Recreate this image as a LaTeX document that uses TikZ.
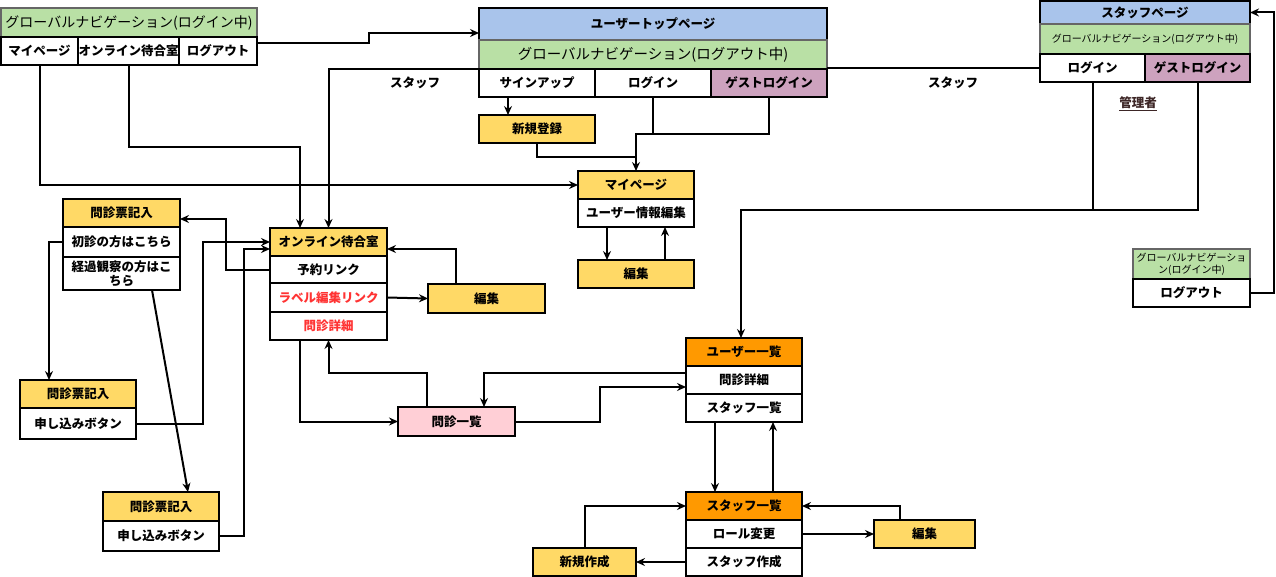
\documentclass[tikz,border=0pt]{standalone}
\usepackage{fontspec}
\setmainfont{Noto Sans CJK JP}
\usepackage{xcolor}
\usepackage{tikz}
\usetikzlibrary{positioning,calc}
\usetikzlibrary{arrows.meta}
\definecolor{navgreen}{HTML}{B9E0A5}
\definecolor{pageblue}{HTML}{A9C4EB}
\definecolor{guestpurple}{HTML}{CDA2BE}
\definecolor{screenyellow}{HTML}{FFD966}
\definecolor{adminorange}{HTML}{FF9900}
\definecolor{listpink}{HTML}{FFCFD6}
\definecolor{linkred}{HTML}{FF3333}
\definecolor{adminbrown}{HTML}{3D2626}
\tikzstyle{cell} = [rectangle,draw=black,line width=2pt,fill=white,inner sep=0pt,outer sep=0pt,align=center,minimum width=116pt,minimum height=28pt,font=\fontsize{12.5}{14}\selectfont\bfseries]
\tikzstyle{page} = [cell,fill=pageblue]
\tikzstyle{nav} = [cell,fill=navgreen,draw=black!60,font=\fontsize{14}{16}\selectfont]
\tikzstyle{smallnav} = [nav,font=\fontsize{10}{12}\selectfont]
\tikzstyle{screen} = [cell,fill=screenyellow]
\tikzstyle{admin} = [cell,fill=adminorange]
\tikzstyle{guest} = [cell,fill=guestpurple]
\tikzstyle{link} = [cell,text=linkred]
\tikzstyle{note} = [font=\fontsize{12.5}{14}\selectfont\bfseries]
\tikzstyle{line} = [line width=2pt,-{Stealth[length=9pt,width=8pt,inset=3pt]}]
\tikzstyle{wire} = [line width=2pt]

\begin{document}
\begin{tikzpicture}[x=1pt,y=-1pt]
        \useasboundingbox (0,0) rectangle (1276,577);
        % global navigation (logged in)
        \node[nav,anchor=north west,minimum width=256pt,minimum height=29pt] (gnav) at (1,8) {グローバルナビゲーション(ログイン中)};
        \node[cell,below right=0pt and 0pt of gnav.south west,minimum width=77pt] (nav-my) {マイページ};
        \node[cell,right=0pt of nav-my,minimum width=101pt] (nav-room) {オンライン待合室};
        \node[cell,right=0pt of nav-room,minimum width=78pt] (nav-out) {ログアウト};
        % user top page
        \node[page,anchor=north west,minimum width=348pt,minimum height=32pt] (top) at (479,8) {ユーザートップページ};
        \node[nav,below=0pt of top,minimum width=348pt,minimum height=29pt,font=\fontsize{14.5}{16}\selectfont] (top-nav) {グローバルナビゲーション(ログアウト中)};
        \node[cell,below right=0pt and 0pt of top-nav.south west] (top-sign) {サインアップ};
        \node[cell,right=0pt of top-sign] (top-login) {ログイン};
        \node[guest,right=0pt of top-login] (top-guest) {ゲストログイン};
        \node[screen,anchor=north west] (signup) at (479,115) {新規登録};
        \node[screen,anchor=north west] (my) at (578,171) {マイページ};
        \node[cell,below=0pt of my] (my-info) {ユーザー情報編集};
        \node[screen,anchor=north west] (my-edit) at (578,260) {編集};
        % staff page
        \node[page,anchor=north west,minimum width=210pt,minimum height=23pt] (staff) at (1040,1) {スタッフページ};
        \node[smallnav,below=0pt of staff,minimum width=210pt,minimum height=30pt] (staff-nav) {グローバルナビゲーション(ログアウト中)};
        \node[cell,below right=0pt and 0pt of staff-nav.south west,minimum width=105pt] (staff-login) {ログイン};
        \node[guest,right=0pt of staff-login,minimum width=105pt] (staff-guest) {ゲストログイン};
        \node[note,text=adminbrown] (kanri) at (1138,104) {\underline{管理者}};
        \node[note] (staff-l) at (415,83) {スタッフ};
        \node[note] (staff-r) at (953,83) {スタッフ};
        \node[smallnav,anchor=north west,minimum width=117pt,minimum height=30pt] (out-nav) at (1133,249) {グローバルナビゲーショ\\ン(ログイン中)};
        \node[cell,below=0pt of out-nav,minimum width=117pt] (out) {ログアウト};
        % interview forms
        \node[screen,anchor=north west,minimum width=117pt] (form) at (63,199) {問診票記入};
        \node[cell,below=0pt of form,minimum width=117pt,minimum height=30pt] (form-first) {初診の方はこちら};
        \node[cell,below=0pt of form-first,minimum width=117pt,minimum height=33pt] (form-cont) {経過観察の方はこ\\ちら};
        \node[screen,anchor=north west] (form-a) at (20,380) {問診票記入};
        \node[cell,below=0pt of form-a,minimum height=31pt] (form-a-btn) {申し込みボタン};
        \node[screen,anchor=north west,minimum height=29pt] (form-b) at (103,492) {問診票記入};
        \node[cell,below=0pt of form-b,minimum height=30pt] (form-b-btn) {申し込みボタン};
        % online waiting room
        \node[screen,anchor=north west,minimum width=117pt] (room) at (270,228) {オンライン待合室};
        \node[cell,below=0pt of room,minimum width=117pt,minimum height=27pt] (room-rsv) {予約リンク};
        \node[link,below=0pt of room-rsv,minimum width=117pt,minimum height=29pt] (room-label) {ラベル編集リンク};
        \node[link,below=0pt of room-label,minimum width=117pt] (room-detail) {問診詳細};
        \node[screen,anchor=north west,minimum width=117pt,minimum height=29pt] (label-edit) at (428,284) {編集};
        \node[cell,fill=listpink,anchor=north west,minimum width=117pt,minimum height=29pt] (list) at (398,407) {問診一覧};
        % user list / staff list
        \node[admin,anchor=north west] (users) at (686,338) {ユーザー一覧};
        \node[cell,below=0pt of users] (users-detail) {問診詳細};
        \node[cell,below=0pt of users-detail] (users-staff) {スタッフ一覧};
        \node[admin,anchor=north west] (staffs) at (686,492) {スタッフ一覧};
        \node[cell,below=0pt of staffs] (staffs-role) {ロール変更};
        \node[cell,below=0pt of staffs-role] (staffs-new) {スタッフ作成};
        \node[screen,anchor=north west,minimum width=101pt] (role-edit) at (874,520) {編集};
        \node[screen,anchor=north west,minimum width=103pt] (new-staff) at (533,548) {新規作成};

        % connectors
        \draw[line] ([yshift=8pt]nav-out.east) -- ++(112,0) |- ([yshift=-9pt]top.west);
        \draw[line] (nav-my.south) |- (my.west);
        \draw[line] (nav-room.south) -- ++(0,82) -| ([xshift=-28.5pt]room.north);
        \draw[line] (top-sign.north west) -| (room.north);
        \draw[wire] (staff-login.west) -- (staff-login.west -| top-guest.east);
        \draw[line] ([xshift=-29pt]top-sign.south) -- ([xshift=-29pt]signup.north);
        \draw[line] (top-login.south) -- ++(0,37) -| (my.north);
        \draw[wire] (top-guest.south) |- ([yshift=-37pt]top-login.south);
        \draw[wire] (signup.south) |- ([yshift=14pt]my.north);
        \draw[line] ([xshift=-29pt]my-info.south) -- ([xshift=-29pt]my-edit.north);
        \draw[line] ([xshift=29pt]my-edit.north) -- ([xshift=29pt]my-info.south);
        \draw[line] (staff-login.south) -- ++(0,128) -| ([xshift=-3pt]users.north);
        \draw[wire] (staff-guest.south) |- ([yshift=-128pt]staff-login.south);
        \draw[line] (out.east) -- ++(24,0) |- (staff.east);
        \draw[line] (room-rsv.west) -- ++(-44,0) |- ([yshift=-6pt]form.east);
        \draw[line] (form-first.west) -| ([xshift=-29pt]form-a.north);
        \draw[line] ([xshift=30.5pt]form-cont.south) -- ([xshift=27pt]form-b.north);
        \draw[line] (form-a-btn.east) -- ++(67,0) |- (room.west);
        \draw[line] (form-b-btn.east) -- ++(25,0) |- ([yshift=-7pt]room.west);
        \draw[line] (room-label.east) -- (label-edit.west);
        \draw[line] ([xshift=-30.5pt]label-edit.north) |- ([yshift=-7pt]room.east);
        \draw[line] ([xshift=-28.5pt]room-detail.south) |- (list.west);
        \draw[line] ([xshift=-29.5pt]list.north) -- ++(0,-34) -| (room-detail.south);
        \draw[line] ([yshift=7pt]users-detail.west) -| ([xshift=27.5pt]list.north);
        \draw[line] (list.east) -- ++(85,0) |- ([yshift=-7pt]users-detail.west);
        \draw[line] ([xshift=-29pt]users-staff.south) -- ([xshift=-29pt]staffs.north);
        \draw[line] ([xshift=29pt]staffs.north) -- ([xshift=29pt]users-staff.south);
        \draw[line] (staffs-role.east) -- (role-edit.west);
        \draw[line] ([xshift=-24.5pt]role-edit.north) |- (staffs.east);
        \draw[line] (staffs-new.west) -- (new-staff.east);
        \draw[line] (new-staff.north) |- (staffs.west);
    \end{tikzpicture}
\end{document}
